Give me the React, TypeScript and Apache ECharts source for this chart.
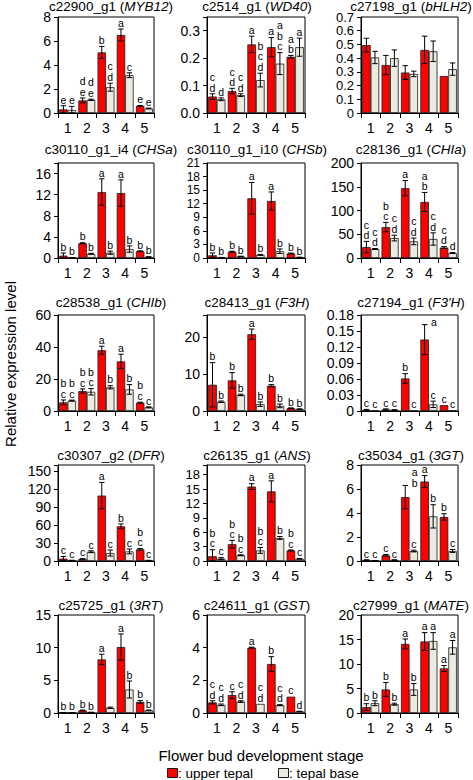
import React, { useEffect, useRef } from 'react';
import * as echarts from 'echarts';

// ---------- data ----------
const stages = ['1', '2', '3', '4', '5'];

const geneIds = [
  'c22900_g1', 'c2514_g1', 'c27198_g1',
  'c30110_g1_i4', 'c30110_g1_i10', 'c28136_g1',
  'c28538_g1', 'c28413_g1', 'c27194_g1',
  'c30307_g2', 'c26135_g1', 'c35034_g1',
  'c25725_g1', 'c24611_g1', 'c27999_g1',
];
const geneNames = [
  'MYB12', 'WD40', 'bHLH2',
  'CHSa', 'CHSb', 'CHIa',
  'CHIb', 'F3H', "F3'H",
  'DFR', 'ANS', '3GT',
  '3RT', 'GST', 'MATE',
];

// axis maxima and tick steps
const yMax = [8, 0.35, 0.7, 18, 21, 200, 60, 26, 0.18, 160, 20, 8, 15, 6, 20];
const yStep = [2, 0.1, 0.1, 4, 3, 50, 20, 10, 0.03, 30, 3, 2, 5, 2, 5];
const yFixedDigits = [-1, 1, -1, -1, -1, -1, -1, -1, -1, -1, -1, -1, -1, -1, -1];

// upper tepal (red) / tepal base (grey): mean, error, significance letters
const myb12Upper = [0.3, 1.05, 5.05, 6.5, 0.6];
const myb12UpperErr = [0.3, 0.2, 0.5, 0.5, 0.03];
const myb12Base = [0.25, 1.1, 2.15, 3.15, 0.38];
const myb12BaseErr = [0.3, 0.05, 0.33, 0.2, 0.03];
const myb12UpperSig = ['e', 'de', 'b', 'a', 'e'];
const myb12BaseSig = ['e', 'de', 'cd', 'c', 'e'];

const wd40Upper = [0.06, 0.08, 0.25, 0.24, 0.205];
const wd40UpperErr = [0.01, 0.01, 0.03, 0.035, 0.005];
const wd40Base = [0.05, 0.065, 0.12, 0.18, 0.24];
const wd40BaseErr = [0.005, 0.005, 0.025, 0.04, 0.033];
const wd40UpperSig = ['cd', 'cd', 'a', 'a', 'ab'];
const wd40BaseSig = ['d', 'cd', 'bcd', 'abc', 'a'];

const bhlh2Upper = [0.495, 0.35, 0.295, 0.46, 0.27];
const bhlh2UpperErr = [0.05, 0.07, 0.05, 0.1, 0];
const bhlh2Base = [0.405, 0.4, 0.285, 0.45, 0.32];
const bhlh2BaseErr = [0.045, 0.06, 0.02, 0.075, 0.045];
const bhlh2UpperSig = ['', '', '', '', ''];
const bhlh2BaseSig = ['', '', '', '', ''];

const chsaUpper = [0.45, 2.8, 12.5, 12.3, 1.3];
const chsaUpperErr = [0.5, 0.1, 2.5, 2.5, 0.05];
const chsaBase = [0.05, 0.8, 1.0, 1.7, 0.2];
const chsaBaseErr = [0.02, 0.1, 0.3, 0.6, 0.05];
const chsaUpperSig = ['b', 'b', 'a', 'a', 'b'];
const chsaBaseSig = ['b', 'b', 'b', 'b', 'b'];

const chsbUpper = [0.6, 1.4, 13.2, 12.6, 1.0];
const chsbUpperErr = [0.5, 0.1, 3.5, 2.0, 0.1];
const chsbBase = [0.1, 0.35, 0.7, 1.5, 0.15];
const chsbBaseErr = [0.03, 0.05, 0.1, 0.5, 0.03];
const chsbUpperSig = ['b', 'b', 'a', 'a', 'b'];
const chsbBaseSig = ['b', 'b', 'b', 'b', 'b'];

const chiaUpper = [23, 65, 147, 118, 22];
const chiaUpperErr = [12, 10, 16, 20, 2];
const chiaBase = [19, 42, 35, 40, 10.5];
const chiaBaseErr = [1, 6, 7, 13, 1];
const chiaUpperSig = ['cd', 'bc', 'a', 'ab', 'cd'];
const chiaBaseSig = ['cd', 'cd', 'cd', 'cd', 'd'];

const chibUpper = [5.4, 12.5, 38, 31, 5.2];
const chibUpperErr = [1.5, 1.3, 2.5, 4.5, 0.3];
const chibBase = [6.5, 12, 14.8, 13.5, 2.3];
const chibBaseErr = [0.3, 2, 1, 3, 0.3];
const chibUpperSig = ['bc', 'bc', 'a', 'a', 'bc'];
const chibBaseSig = ['bc', 'bc', 'b', 'b', 'c'];

const f3hUpper = [7.1, 8.3, 20.8, 6.85, 0.75];
const f3hUpperErr = [6, 2.1, 1.4, 0.3, 0.1];
const f3hBase = [2.5, 4.35, 1.85, 1.4, 0.5];
const f3hBaseErr = [0.2, 0.2, 0.6, 0.5, 0.1];
const f3hUpperSig = ['b', 'b', 'a', 'b', 'b'];
const f3hBaseSig = ['b', 'b', 'b', 'b', 'b'];

const f3phUpper = [0.002, 0.003, 0.061, 0.134, 0.011];
const f3phUpperErr = [0.001, 0.001, 0.009, 0.028, 0];
const f3phBase = [0.001, 0.002, 0.001, 0.0125, 0.001];
const f3phBaseErr = [0, 0.0005, 0, 0.006, 0];
const f3phUpperSig = ['c', 'c', 'b', 'a', 'c'];
const f3phBaseSig = ['c', 'c', 'c', 'c', 'c'];

const dfrUpper = [4, 3.5, 109, 57.8, 19.4];
const dfrUpperErr = [3.5, 0.3, 22, 4, 1.5];
const dfrBase = [1, 15.5, 13.3, 16, 1];
const dfrBaseErr = [0.3, 1.5, 5, 4, 0.2];
const dfrUpperSig = ['c', 'c', 'a', 'b', 'bc'];
const dfrBaseSig = ['c', 'c', 'c', 'c', 'c'];

const ansUpper = [1.0, 3.5, 15.5, 14.5, 2.2];
const ansUpperErr = [1.35, 0.8, 0.6, 2.2, 0.1];
const ansBase = [0.5, 1.2, 2.2, 4.8, 0.45];
const ansBaseErr = [0.2, 0.1, 0.6, 0.3, 0.05];
const ansUpperSig = ['bc', 'bc', 'a', 'a', 'bc'];
const ansBaseSig = ['c', 'bc', 'bc', 'b', 'c'];

const gt3Upper = [0.08, 0.47, 5.32, 6.62, 3.67];
const gt3UpperErr = [0.02, 0.07, 0.97, 0.5, 0.27];
const gt3Base = [0.03, 0.08, 0.83, 3.72, 0.83];
const gt3BaseErr = [0.01, 0.02, 0.07, 0.97, 0.12];
const gt3UpperSig = ['c', 'c', 'ab', 'a', 'b'];
const gt3BaseSig = ['c', 'c', 'c', 'b', 'c'];

const rt3Upper = [0.05, 0.4, 8.2, 10.1, 1.7];
const rt3UpperErr = [0.02, 0.05, 0.8, 2.0, 0.2];
const rt3Base = [0.05, 0.1, 0.8, 3.6, 0.4];
const rt3BaseErr = [0.01, 0.02, 0.1, 1.3, 0.05];
const rt3UpperSig = ['b', 'b', 'a', 'a', 'b'];
const rt3BaseSig = ['b', 'b', '', 'b', 'b'];

const gstUpper = [0.65, 1.1, 4.0, 3.0, 1.0];
const gstUpperErr = [0.1, 0.2, 0.03, 0.45, 0];
const gstBase = [0.5, 0.7, 0.56, 0.48, 0.1];
const gstBaseErr = [0.05, 0.05, 0, 0.03, 0.01];
const gstUpperSig = ['cd', 'c', 'a', 'b', 'c'];
const gstBaseSig = ['cd', 'cd', 'cd', 'cd', 'd'];

const mateUpper = [1.2, 4.8, 14.1, 14.6, 9.1];
const mateUpperErr = [0.7, 1.4, 1.0, 1.8, 0.6];
const mateBase = [2.0, 1.8, 4.8, 14.7, 13.4];
const mateBaseErr = [0.5, 0.2, 1.2, 1.7, 1.4];
const mateUpperSig = ['b', 'b', 'a', 'a', 'a'];
const mateBaseSig = ['b', 'b', 'b', 'a', 'a'];

const panels = [
  [myb12Upper, myb12UpperErr, myb12Base, myb12BaseErr, myb12UpperSig, myb12BaseSig],
  [wd40Upper, wd40UpperErr, wd40Base, wd40BaseErr, wd40UpperSig, wd40BaseSig],
  [bhlh2Upper, bhlh2UpperErr, bhlh2Base, bhlh2BaseErr, bhlh2UpperSig, bhlh2BaseSig],
  [chsaUpper, chsaUpperErr, chsaBase, chsaBaseErr, chsaUpperSig, chsaBaseSig],
  [chsbUpper, chsbUpperErr, chsbBase, chsbBaseErr, chsbUpperSig, chsbBaseSig],
  [chiaUpper, chiaUpperErr, chiaBase, chiaBaseErr, chiaUpperSig, chiaBaseSig],
  [chibUpper, chibUpperErr, chibBase, chibBaseErr, chibUpperSig, chibBaseSig],
  [f3hUpper, f3hUpperErr, f3hBase, f3hBaseErr, f3hUpperSig, f3hBaseSig],
  [f3phUpper, f3phUpperErr, f3phBase, f3phBaseErr, f3phUpperSig, f3phBaseSig],
  [dfrUpper, dfrUpperErr, dfrBase, dfrBaseErr, dfrUpperSig, dfrBaseSig],
  [ansUpper, ansUpperErr, ansBase, ansBaseErr, ansUpperSig, ansBaseSig],
  [gt3Upper, gt3UpperErr, gt3Base, gt3BaseErr, gt3UpperSig, gt3BaseSig],
  [rt3Upper, rt3UpperErr, rt3Base, rt3BaseErr, rt3UpperSig, rt3BaseSig],
  [gstUpper, gstUpperErr, gstBase, gstBaseErr, gstUpperSig, gstBaseSig],
  [mateUpper, mateUpperErr, mateBase, mateBaseErr, mateUpperSig, mateBaseSig],
] as any[];

const seriesNames = ['upper tepal', 'tepal base'];
const yTitle = 'Relative expression level';
const xTitle = 'Flower bud development stage';

// ---------- layout / style ----------
const FONT = '"Liberation Sans", Arial, Helvetica, sans-serif';
const RED = '#ff0000';
const GREY = '#ebebe0';
const EDGE = '#1a1a1a';
const colLeft = [58, 207, 361];
const colWidth = [96, 98, 97];
const rowTop = [17, 163, 315, 465, 615];
const rowBottom = [113, 258, 411, 561, 713];
const titleY = [6, 149.5, 302, 455, 605];
const titleX = [111, 257, 411];
const GAP = 0.12;
const SIG_FS = 10.5;
const LH = 10.5;

function fmt(v: number, i: number) {
  const step = yStep[i];
  const r = v / step;
  if (Math.abs(r - Math.round(r)) > 1e-6) return '';
  if (yFixedDigits[i] >= 0) return v.toFixed(yFixedDigits[i]);
  return String(+v.toFixed(6));
}

function buildOption() {
  const grid: any[] = [];
  const xAxis: any[] = [];
  const yAxis: any[] = [];
  const series: any[] = [];
  const graphic: any[] = [];

  panels.forEach((p: any[], i: number) => {
    const row = Math.floor(i / 3);
    const col = i % 3;
    const [up, upErr, base, baseErr, upSig, baseSig] = p;
    const h = rowBottom[row] - rowTop[row];
    const spacing = (h * yStep[i]) / yMax[i];
    const yFs = Math.min(14, Math.floor(spacing - 0.6));
    grid.push({
      left: colLeft[col],
      top: rowTop[row],
      width: colWidth[col],
      height: h,
      show: true,
      borderColor: '#000',
      borderWidth: 1,
      backgroundColor: 'transparent',
      outerBoundsMode: 'none',
    });
    xAxis.push({
      type: 'category',
      gridIndex: i,
      data: stages,
      axisLine: { show: true, lineStyle: { color: '#000', width: 1 } },
      axisTick: { show: true, inside: false, length: 5, alignWithLabel: false, lineStyle: { color: '#000' } },
      axisLabel: { color: '#000', fontSize: 14, fontFamily: FONT, margin: 8, interval: 0 },
      splitLine: { show: false },
    });
    yAxis.push({
      type: 'value',
      gridIndex: i,
      min: 0,
      max: yMax[i],
      interval: yStep[i],
      axisLine: { show: true, lineStyle: { color: '#000', width: 1 } },
      axisTick: { show: true, inside: false, length: 4, lineStyle: { color: '#000' } },
      axisLabel: {
        color: '#000', fontSize: yFs, lineHeight: yFs, fontFamily: FONT, margin: 7,
        formatter: (v: number) => fmt(v, i),
      },
      splitLine: { show: false },
    });
    series.push({
      type: 'bar', name: seriesNames[0], xAxisIndex: i, yAxisIndex: i,
      data: up, barGap: '0%', barCategoryGap: GAP * 100 + '%', z: 2,
      itemStyle: { color: RED, borderColor: EDGE, borderWidth: 0.8 },
    });
    series.push({
      type: 'bar', name: seriesNames[1], xAxisIndex: i, yAxisIndex: i,
      data: base, barGap: '0%', barCategoryGap: GAP * 100 + '%', z: 2,
      itemStyle: { color: GREY, borderColor: EDGE, borderWidth: 0.8 },
    });
    const items: any[] = [];
    const sigs: string[] = [];
    for (let k = 0; k < stages.length; k++) {
      items.push([k, up[k], upErr[k], 0]);
      sigs.push(upSig[k]);
      items.push([k, base[k], baseErr[k], 1]);
      sigs.push(baseSig[k]);
    }
    series.push({
      type: 'custom', xAxisIndex: i, yAxisIndex: i, z: 5, clip: false,
      encode: { x: 0, y: 1 },
      data: items,
      renderItem: (params: any, api: any) => {
        const ci = api.value(0) as number;
        const v = api.value(1) as number;
        const e = api.value(2) as number;
        const side = api.value(3) as number;
        const band = api.size([1, 0])[0];
        const bw = (band * (1 - GAP)) / 2;
        const c0 = api.coord([ci, 0]);
        const cx = c0[0] + (side === 0 ? -bw / 2 : bw / 2);
        const yTop = api.coord([ci, v + e])[1];
        const yLow = api.coord([ci, Math.max(0, v - e)])[1];
        const cap = bw * 0.32;
        const children: any[] = [];
        const ls = { stroke: '#000', lineWidth: 1 };
        if (e > 0) {
          children.push({ type: 'line', shape: { x1: cx, y1: yLow, x2: cx, y2: yTop }, style: ls });
          children.push({ type: 'line', shape: { x1: cx - cap, y1: yTop, x2: cx + cap, y2: yTop }, style: ls });
          children.push({ type: 'line', shape: { x1: cx - cap, y1: yLow, x2: cx + cap, y2: yLow }, style: ls });
        }
        const lab = sigs[params.dataIndex];
        if (lab) {
          const th = lab.length * LH;
          const gTop = params.coordSys.y;
          let tx = cx;
          let ty = yTop - 1;
          if (ty - th < gTop - 1) {
            tx = cx + bw * 1.1;
            ty = gTop + th + 2;
          }
          children.push({
            type: 'text',
            x: tx,
            y: ty,
            style: {
              text: lab.split('').join('\n'),
              fill: '#000',
              fontSize: SIG_FS,
              fontFamily: FONT,
              align: 'center',
              verticalAlign: 'bottom',
              lineHeight: LH,
            },
          });
        }
        return { type: 'group', children };
      },
    });

    graphic.push({
      type: 'text',
      x: titleX[col],
      y: titleY[row],
      style: {
        text: geneIds[i] + ' ({i|' + geneNames[i] + '})',
        fill: '#000',
        fontSize: 13.5,
        fontFamily: FONT,
        align: 'center',
        verticalAlign: 'middle',
        rich: { i: { fontStyle: 'italic', fontSize: 13.5, fontFamily: FONT, fill: '#000' } },
      },
    });
  });

  graphic.push({
    type: 'text', x: 10, y: 364, rotation: Math.PI / 2,
    style: { text: yTitle, fill: '#000', fontSize: 15, fontFamily: FONT, align: 'center', verticalAlign: 'middle' },
  });
  graphic.push({
    type: 'text', x: 261, y: 755,
    style: { text: xTitle, fill: '#000', fontSize: 15, fontFamily: FONT, align: 'center', verticalAlign: 'middle' },
  });
  graphic.push({ type: 'rect', shape: { x: 167.5, y: 768.5, width: 10, height: 9 }, style: { fill: RED, stroke: EDGE, lineWidth: 1 } });
  graphic.push({
    type: 'text', x: 178, y: 773,
    style: { text: ': ' + seriesNames[0], fill: '#000', fontSize: 13.5, fontFamily: FONT, align: 'left', verticalAlign: 'middle' },
  });
  graphic.push({ type: 'rect', shape: { x: 278.5, y: 768.5, width: 10, height: 9 }, style: { fill: GREY, stroke: EDGE, lineWidth: 1 } });
  graphic.push({
    type: 'text', x: 289, y: 773,
    style: { text: ': ' + seriesNames[1], fill: '#000', fontSize: 13.5, fontFamily: FONT, align: 'left', verticalAlign: 'middle' },
  });

  return {
    animation: false,
    backgroundColor: '#fff',
    textStyle: { fontFamily: FONT },
    grid,
    xAxis,
    yAxis,
    series,
    graphic,
  };
}

export default function App() {
  const ref = useRef<HTMLDivElement>(null);
  useEffect(() => {
    document.body.style.margin = '0';
    if (!ref.current) return;
    const chart = echarts.init(ref.current, undefined, { renderer: 'svg' });
    chart.setOption(buildOption() as any);
    return () => chart.dispose();
  }, []);
  return <div ref={ref} style={{ width: 473, height: 780 }} />;
}
